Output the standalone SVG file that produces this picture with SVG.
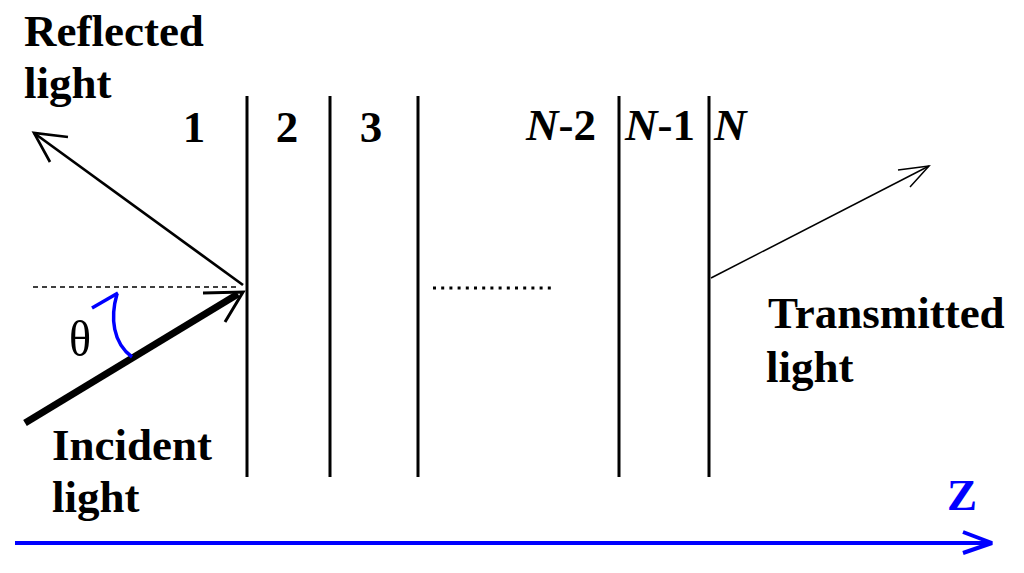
<svg xmlns="http://www.w3.org/2000/svg" width="1024" height="573" viewBox="0 0 1024 573">
<style>
.t{font-family:"Liberation Serif","Times New Roman",serif;font-weight:bold;font-size:45px;fill:#000}
.b{stroke:#000;fill:none;stroke-linecap:butt}
.wall{stroke:#000;stroke-width:3}
</style>
<rect width="1024" height="573" fill="#fff"/>
<g id="layers">
<line class="wall" x1="247" y1="96" x2="247" y2="477"/>
<line class="wall" x1="330" y1="96" x2="330" y2="477"/>
<line class="wall" x1="418" y1="96" x2="418" y2="477"/>
<line class="wall" x1="619" y1="96" x2="619" y2="477"/>
<line class="wall" x1="709" y1="96" x2="709" y2="477"/>
<line x1="433" y1="288" x2="556" y2="288" stroke="#000" stroke-width="3" stroke-dasharray="3 5.2"/>
</g>
<g id="layer-labels">
<text class="t" x="194" y="142" text-anchor="middle">1</text>
<text class="t" x="287" y="142" text-anchor="middle">2</text>
<text class="t" x="371" y="142" text-anchor="middle">3</text>
<text class="t" x="526" y="140"><tspan font-style="italic">N</tspan>-2</text>
<text class="t" x="625" y="140"><tspan font-style="italic">N</tspan>-1</text>
<text class="t" x="714" y="140" font-style="italic">N</text>
</g>
<g id="connectors">
<line x1="33" y1="287" x2="240" y2="287" stroke="#000" stroke-width="1.5" stroke-dasharray="5 4"/>
<g id="reflected-arrow">
<line class="b" stroke-width="2.7" x1="243" y1="285" x2="34" y2="133"/>
<polyline class="b" stroke-width="2.7" points="68,137 34,133 50,162"/>
</g>
<g id="incident-arrow">
<line class="b" stroke-width="7" stroke-linecap="round" x1="25" y1="423" x2="238" y2="294"/>
<polyline class="b" stroke-width="3" points="203,293 243,292 225,322"/>
</g>
<g id="transmitted-arrow">
<line class="b" stroke-width="1.5" x1="711" y1="278" x2="929" y2="166"/>
<polyline class="b" stroke-width="1.5" points="898,170 929,166 910,187"/>
</g>
<g id="theta-arc">
<path d="M92,308 L118,293" stroke="#0000ff" stroke-width="3.5" fill="none"/>
<path d="M117,294 C110,318 113,343 132,357" stroke="#0000ff" stroke-width="3.5" fill="none"/>
</g>
<g id="z-axis">
<line x1="15" y1="543" x2="990" y2="543" stroke="#0000ff" stroke-width="4"/>
<polyline points="963,532 992,543 963,553" stroke="#0000ff" stroke-width="4" fill="none" stroke-linejoin="bevel"/>
</g>
</g>
<g id="text-labels">
<text class="t" x="24" y="46">Reflected</text>
<text class="t" x="24" y="98">light</text>
<text class="t" x="52" y="460">Incident</text>
<text class="t" x="52" y="512">light</text>
<text class="t" x="768" y="328">Transmitted</text>
<text class="t" x="766" y="382">light</text>
<text x="69" y="356" font-family="Liberation Serif,serif" font-size="46" fill="#000" transform="translate(69 356) scale(1 1.1) translate(-69 -356)">θ</text>
<text class="t" x="947" y="510" style="fill:#0000ff">Z</text>
</g>
</svg>
